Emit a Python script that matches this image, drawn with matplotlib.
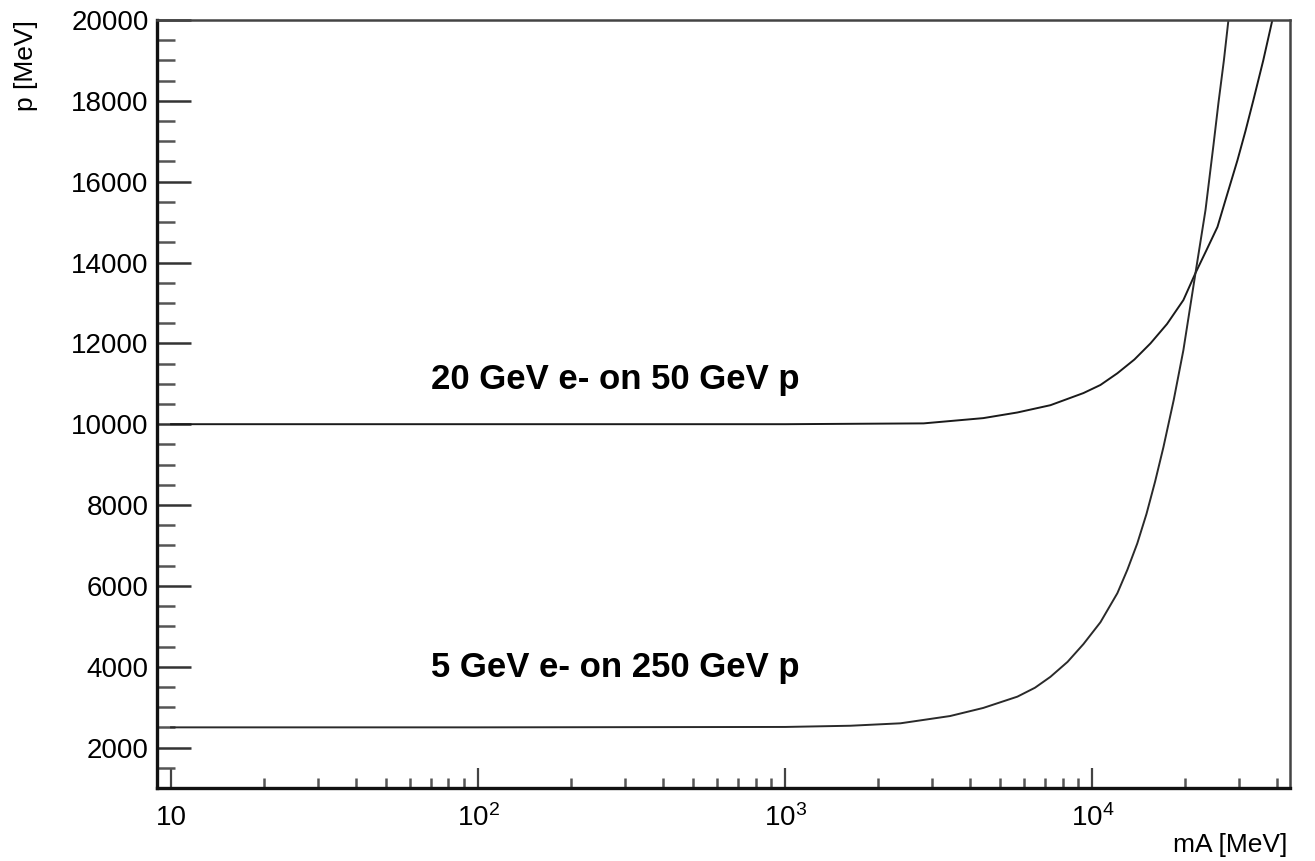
import matplotlib
matplotlib.use('Agg')
import matplotlib.pyplot as plt
from matplotlib.ticker import FixedLocator, NullFormatter, MultipleLocator

plt.rcParams['font.family'] = ['Liberation Sans', 'DejaVu Sans']
plt.rcParams['mathtext.fontset'] = 'custom'
plt.rcParams['mathtext.rm'] = 'Liberation Sans'
plt.rcParams['mathtext.it'] = 'Liberation Sans:italic'
plt.rcParams['mathtext.bf'] = 'Liberation Sans:bold'

# values
# 20 GeV e- on 50 GeV p
mA_hi = [10, 100, 1000, 2820, 4410, 5700, 7300, 9350, 10620, 12060, 13700,
         15460, 17500, 19780, 21660, 23500, 25540, 27110, 29670, 31500,
         33440, 36000, 38550]
p_hi = [10000, 10000, 10000, 10020, 10150, 10290, 10470, 10770, 10970, 11260,
        11600, 12000, 12480, 13070, 13740, 14300, 14880, 15540, 16530, 17250,
        18020, 19000, 20000]

# 5 GeV e- on 250 GeV p
mA_lo = [10, 100, 1000, 1630, 2370, 3440, 4410, 5700, 6500, 7300, 8300, 9350,
         10620, 12060, 13000, 14000, 15000, 16000, 17030, 18400, 19780, 21660,
         23350, 24780, 25730, 26800, 27730]
p_lo = [2500, 2500, 2510, 2540, 2600, 2780, 2980, 3260, 3480, 3750, 4120, 4560,
        5100, 5820, 6400, 7050, 7780, 8580, 9430, 10600, 11830, 13740,
        15300, 16900, 17950, 19000, 20000]

label_hi = '20 GeV e- on 50 GeV p'
label_lo = '5 GeV e- on 250 GeV p'

x_major = [10, 100, 1000, 10000]
x_major_labels = ['10', '$10^{2}$', '$10^{3}$', '$10^{4}$']
y_major = [2000, 4000, 6000, 8000, 10000, 12000, 14000, 16000, 18000, 20000]

fig = plt.figure(figsize=(13.15, 8.61), dpi=100)
ax = fig.add_axes([0.1194, 0.0848, 0.8616, 0.892])

ax.plot(mA_hi, p_hi, color='#1a1a1a', linewidth=1.4)
ax.plot(mA_lo, p_lo, color='#2a2a2a', linewidth=1.4)

ax.set_xscale('log')
ax.set_xlim(9, 44000)
ax.set_ylim(1000, 20000)

# x axis ticks
ax.xaxis.set_major_locator(FixedLocator(x_major))
ax.set_xticklabels(x_major_labels)
minors = [m * 10 ** d for d in range(1, 5) for m in range(2, 10)]
ax.xaxis.set_minor_locator(FixedLocator(minors))
ax.xaxis.set_minor_formatter(NullFormatter())

# y axis ticks
ax.yaxis.set_major_locator(FixedLocator(y_major))
ax.yaxis.set_minor_locator(MultipleLocator(500))

ax.tick_params(axis='x', which='major', direction='in', length=14.5, width=1.6,
               color='#444444', labelsize=20, pad=12)
ax.tick_params(axis='x', which='minor', direction='in', length=7.5, width=1.8,
               color='#555555')
ax.tick_params(axis='y', which='major', direction='in', length=24.5, width=1.8,
               color='#333333', labelsize=20, pad=6)
ax.tick_params(axis='y', which='minor', direction='in', length=13, width=1.8,
               color='#555555')
ax.tick_params(top=False, right=False, which='both')

for side in ['left', 'bottom']:
    ax.spines[side].set_linewidth(2.4)
    ax.spines[side].set_color('#111111')
for side in ['top', 'right']:
    ax.spines[side].set_linewidth(1.8)
    ax.spines[side].set_color('#444444')

# curve labels
ax.text(70, 10870, label_hi, fontsize=25, fontweight='bold', va='baseline', ha='left')
ax.text(70, 3740, label_lo, fontsize=25, fontweight='bold', va='baseline', ha='left')

# axis titles (ROOT style)
fig.text(1287 / 1315, 1 - 852 / 861, 'mA [MeV]', fontsize=19, ha='right', va='baseline')
fig.text(26 / 1315, 1 - 20 / 861, 'p [MeV]', fontsize=19, rotation=90,
         ha='center', va='top')

plt.savefig('out.png', dpi=100)
